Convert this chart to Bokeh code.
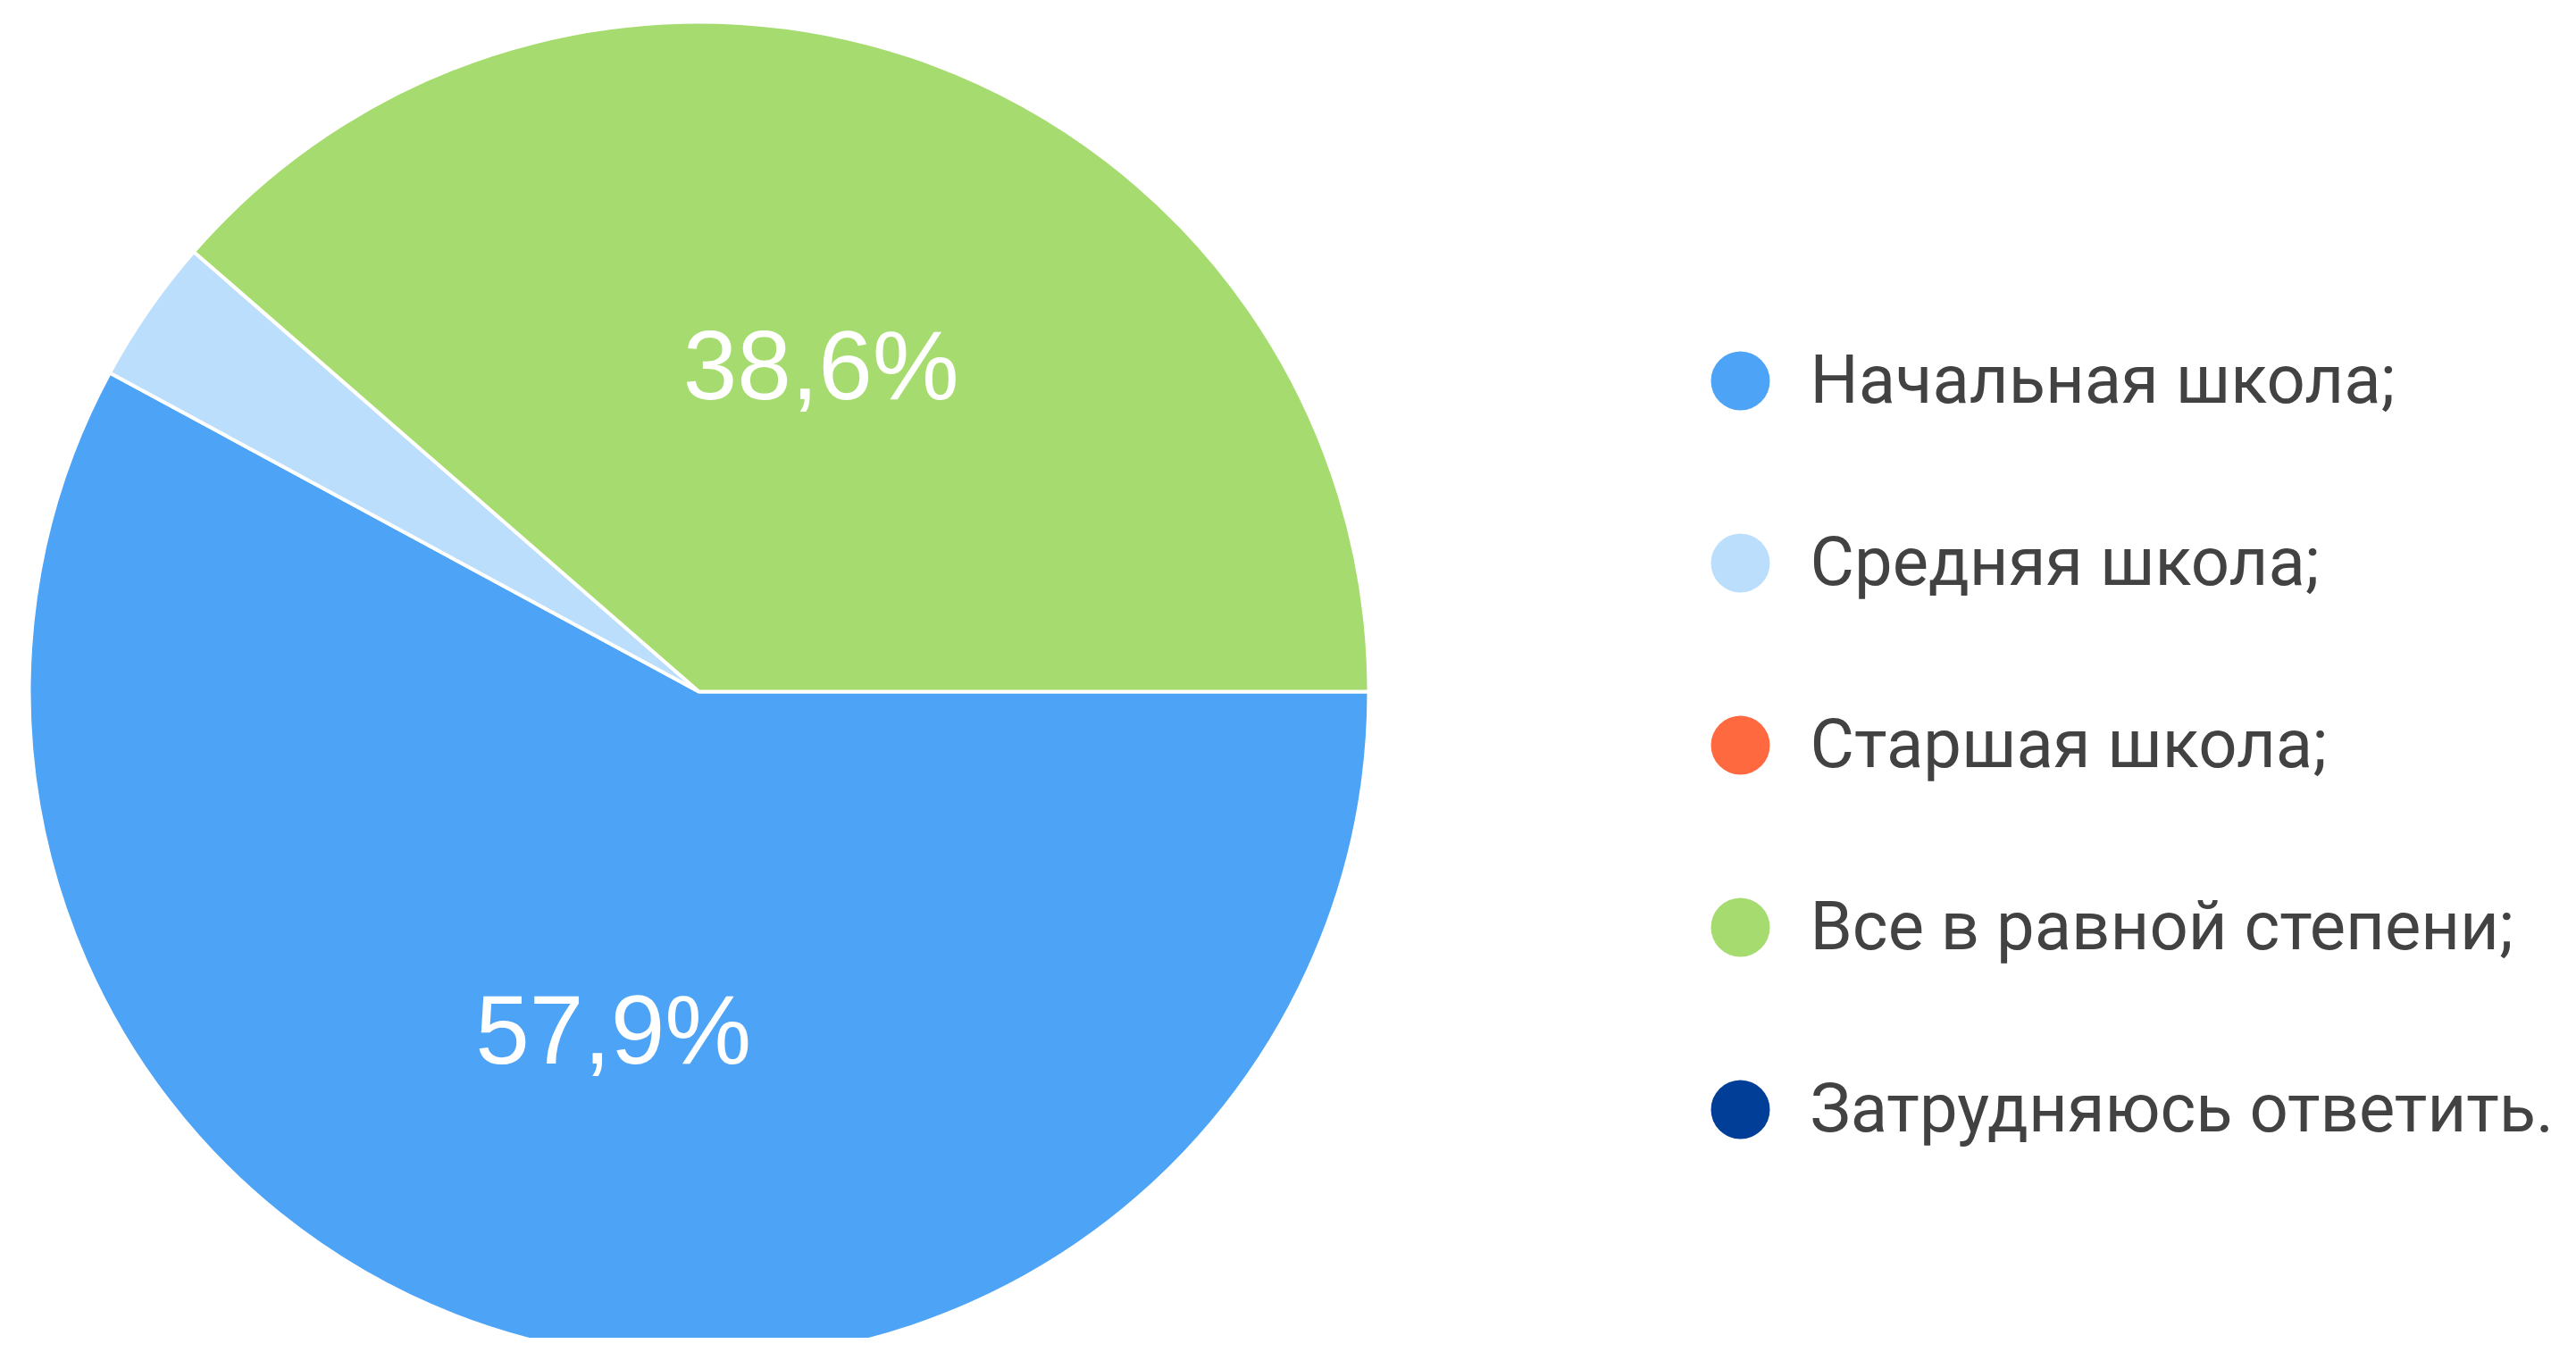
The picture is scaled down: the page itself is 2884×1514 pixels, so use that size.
import math
from bokeh.plotting import figure
from bokeh.models import Range1d, ColumnDataSource
from bokeh.core.properties import value
from bokeh.embed import file_html
from bokeh.resources import INLINE

# ---- data ----
categories = ["Начальная школа;", "Средняя школа;", "Старшая школа;",
              "Все в равной степени;", "Затрудняюсь ответить."]
counts = [33, 2, 0, 22, 0]
colors = ["#4DA4F6", "#BBDEFC", "#FF6940", "#A6DC6F", "#013E98"]

W, H = 2868, 1498
p = figure(width=W, height=H, output_backend="svg", toolbar_location=None,
           x_range=Range1d(0, W), y_range=Range1d(0, H),
           min_border=0, background_fill_color="white", border_fill_color="white")
p.axis.visible = False
p.grid.visible = False
p.outline_line_color = None

cx, cy, R = 782, 724, 750
total = sum(counts)

starts, ends, cols, lab_x, lab_y, lab_t = [], [], [], [], [], []
cum = 0.0
for c, col in zip(counts, colors):
    frac = c / total
    if c > 0:
        a0 = -2 * math.pi * cum
        a1 = -2 * math.pi * (cum + frac)
        starts.append(a0)
        ends.append(a1)
        cols.append(col)
        pct = 100 * frac
        if pct >= 5:
            mid = (a0 + a1) / 2
            lr = 0.52 * R
            lab_x.append(cx + lr * math.cos(mid))
            lab_y.append(cy + lr * math.sin(mid))
            lab_t.append(f"{pct:.1f}".replace(".", ",") + "%")
    cum += frac

src = ColumnDataSource(dict(start=starts, end=ends, color=cols))
p.wedge(x=cx, y=cy, radius=R, start_angle="start", end_angle="end",
        direction="clock", fill_color="color", line_color="white",
        line_width=4, source=src)

p.text(x=lab_x, y=lab_y, text=lab_t, text_color="white",
       text_font=value("Liberation Sans"), text_font_size="109px",
       text_align="center", text_baseline="middle")

# legend
lx, ly0, dy = 1948, 1498 - 426, 204
leg_y = [ly0 - i * dy for i in range(len(categories))]
p.scatter(x=[lx] * len(categories), y=leg_y, size=66, marker="circle",
          fill_color=colors, line_color=None)
p.text(x=[2026] * len(categories), y=[v + 2 for v in leg_y], text=categories,
       text_color="#424242", text_font=value("Roboto"), text_font_size="76px",
       text_align="left", text_baseline="middle")

open("out.html", "w").write(file_html(p, INLINE))
